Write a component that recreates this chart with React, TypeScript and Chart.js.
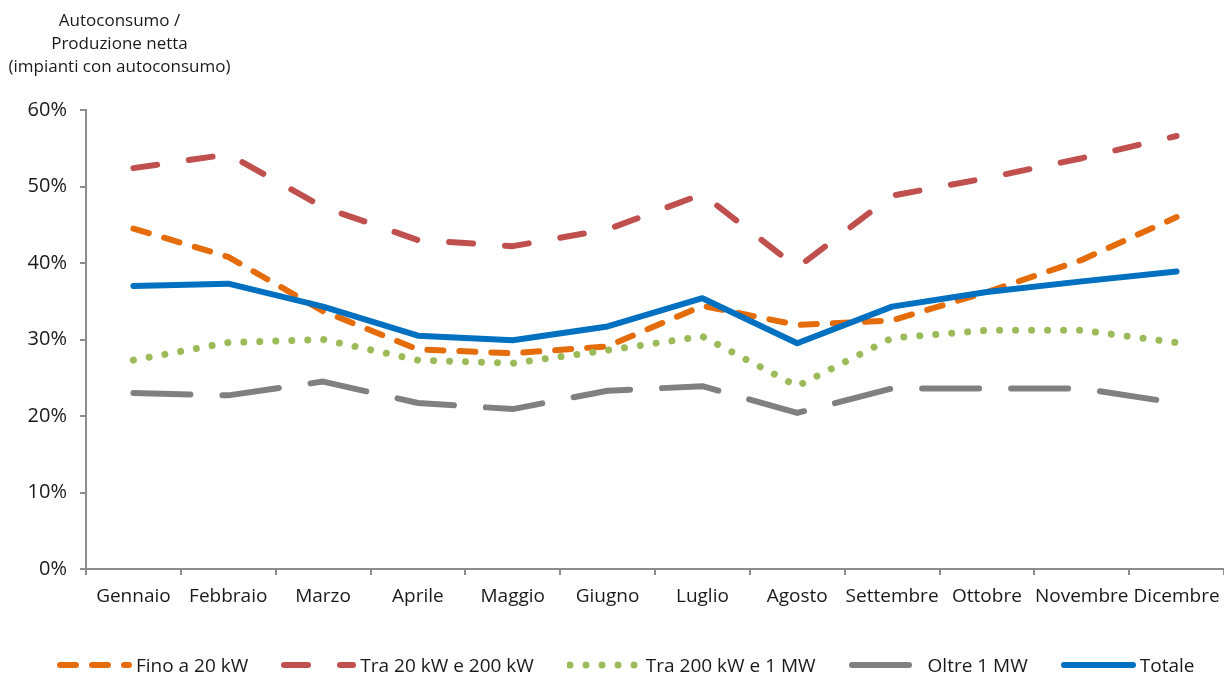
import React, { useEffect, useRef } from "react";
import { Chart, registerables } from "chart.js";

Chart.register(...registerables);

// ---- data ----
const months = [
  "Gennaio", "Febbraio", "Marzo", "Aprile", "Maggio", "Giugno",
  "Luglio", "Agosto", "Settembre", "Ottobre", "Novembre", "Dicembre",
];
const fino20kW = [44.5, 40.8, 33.7, 28.7, 28.2, 29.1, 34.4, 31.9, 32.5, 36.2, 40.4, 46.0];
const tra20e200kW = [52.4, 54.2, 47.3, 43.0, 42.2, 44.4, 49.0, 39.4, 48.8, 51.1, 53.7, 56.6];
const tra200kWe1MW = [27.3, 29.6, 30.0, 27.3, 26.9, 28.6, 30.4, 23.9, 30.2, 31.2, 31.2, 29.6];
const oltre1MW = [23.0, 22.7, 24.5, 21.7, 20.9, 23.3, 23.9, 20.4, 23.6, 23.6, 23.6, 21.7];
const totale = [37.0, 37.3, 34.3, 30.5, 29.9, 31.7, 35.4, 29.5, 34.3, 36.2, 37.6, 38.9];

const seriesNames = [
  "Fino a 20 kW",
  "Tra 20 kW e 200 kW",
  "Tra 200 kW e 1 MW",
  "Oltre 1 MW",
  "Totale",
];
const yTickValues = [0, 10, 20, 30, 40, 50, 60];
const titleLines = ["Autoconsumo /", "Produzione netta", "(impianti con autoconsumo)"];

// ---- styles ----
const FONT = "'Open Sans', 'Noto Sans', sans-serif";
const TEXT = "#1a1a1a";
const AXIS = "#8c8c8c";
const seriesColors = ["#E46C0A", "#C0504D", "#9BBB59", "#808080", "#0070C0"];
const seriesDashes: number[][] = [[16, 16], [24, 32], [0.001, 16], [57, 32], []];
const seriesWidths = [6, 6, 7, 6, 6];

function LegendSwatch({ color, dash, width }: { color: string; dash: number[]; width: number }) {
  return (
    <svg width={75} height={12} style={{ display: "block", flex: "0 0 auto" }}>
      <line
        x1={3}
        y1={6}
        x2={72}
        y2={6}
        stroke={color}
        strokeWidth={width}
        strokeLinecap="round"
        strokeDasharray={dash.length ? dash.join(" ") : undefined}
      />
    </svg>
  );
}

export default function App() {
  const canvasRef = useRef<HTMLCanvasElement | null>(null);

  useEffect(() => {
    const canvas = canvasRef.current;
    if (!canvas) return;
    const seriesData = [fino20kW, tra20e200kW, tra200kWe1MW, oltre1MW, totale];
    const chart = new Chart(canvas, {
      type: "line",
      data: {
        labels: months,
        datasets: seriesNames.map((name, i) => ({
          label: name,
          data: seriesData[i],
          borderColor: seriesColors[i],
          backgroundColor: seriesColors[i],
          borderWidth: seriesWidths[i],
          borderDash: seriesDashes[i],
          borderCapStyle: "round" as const,
          borderJoinStyle: "round" as const,
          pointRadius: 0,
          pointHoverRadius: 0,
          tension: 0,
          fill: false,
          order: i === 4 ? 0 : 5 - i,
        })),
      },
      options: {
        animation: false,
        responsive: false,
        maintainAspectRatio: false,
        events: [],
        layout: { padding: { top: 110, left: 0, right: 0, bottom: 0 } },
        plugins: {
          legend: { display: false },
          tooltip: { enabled: false },
          title: { display: false },
        },
        scales: {
          x: {
            type: "category",
            offset: true,
            grid: {
              offset: true,
              drawOnChartArea: false,
              drawTicks: true,
              tickLength: 6,
              color: AXIS,
              lineWidth: 2,
            },
            border: { display: true, color: AXIS, width: 2 },
            ticks: {
              font: { family: FONT, size: 19 },
              color: TEXT,
              padding: 10,
              maxRotation: 0,
              autoSkip: false,
            },
            afterFit: (s: any) => {
              s.height = 106;
              s.paddingLeft = 0;
              s.paddingRight = 0;
            },
          },
          y: {
            min: 0,
            max: 60,
            afterBuildTicks: (s: any) => {
              s.ticks = yTickValues.map((v) => ({ value: v }));
            },
            grid: {
              drawOnChartArea: false,
              drawTicks: true,
              tickLength: 6,
              color: AXIS,
              lineWidth: 2,
            },
            border: { display: true, color: AXIS, width: 2 },
            ticks: {
              font: { family: FONT, size: 20 },
              color: TEXT,
              padding: 13,
              callback: (v: any) => `${v}%`,
            },
            afterFit: (s: any) => {
              s.width = 86;
            },
          },
        },
      },
    });
    return () => chart.destroy();
  }, []);

  return (
    <div
      style={{
        position: "fixed",
        left: 0,
        top: 0,
        width: 1224,
        height: 675,
        overflow: "hidden",
        background: "#ffffff",
        fontFamily: FONT,
        color: TEXT,
      }}
    >
      <canvas ref={canvasRef} width={1224} height={675} style={{ display: "block" }} />
      <div
        style={{
          position: "absolute",
          left: 0,
          top: 8,
          width: 239,
          textAlign: "center",
          fontSize: 17,
          lineHeight: "23px",
        }}
      >
        {titleLines.map((t) => (
          <div key={t}>{t}</div>
        ))}
      </div>
      <div
        style={{
          position: "absolute",
          left: 57,
          top: 652,
          height: 26,
          display: "flex",
          alignItems: "center",
          fontSize: 19,
          lineHeight: "26px",
          whiteSpace: "nowrap",
        }}
      >
        {seriesNames.map((name, i) => (
          <div
            key={name}
            style={{ display: "flex", alignItems: "center", marginRight: i < 4 ? 33 : 0 }}
          >
            <LegendSwatch color={seriesColors[i]} dash={seriesDashes[i]} width={seriesWidths[i]} />
            <span style={{ marginLeft: 4 }}>{name}</span>
          </div>
        ))}
      </div>
    </div>
  );
}
